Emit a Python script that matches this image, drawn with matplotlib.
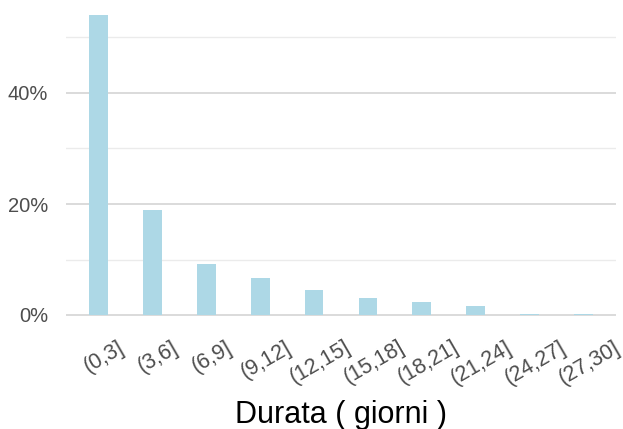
import matplotlib
matplotlib.use("Agg")
import matplotlib.pyplot as plt
import matplotlib.transforms as mtransforms
from matplotlib.ticker import FixedLocator, FuncFormatter

categories = ["(0,3]", "(3,6]", "(6,9]", "(9,12]", "(12,15]", "(15,18]",
              "(18,21]", "(21,24]", "(24,27]", "(27,30]"]
percent = [54.0, 18.9, 9.2, 6.7, 4.5, 3.05, 2.3, 1.6, 0.15, 0.1]
major_ticks = [0, 20, 40]
minor_ticks = [10, 30, 50]
xlabel = "Durata ( giorni )"

plt.rcParams['font.family'] = ['Liberation Sans', 'DejaVu Sans']

W, H = 623, 429
fig = plt.figure(figsize=(W / 100, H / 100), dpi=100)
left_px, right_px, top_px, bottom_px = 66, 616, 2, 330
ax = fig.add_axes([left_px / W, 1 - bottom_px / H,
                   (right_px - left_px) / W, (bottom_px - top_px) / H])

x = list(range(len(categories)))
ax.bar(x, percent, width=0.35, color="#ADD8E6", zorder=3)

ax.set_xlim(-0.6, len(categories) - 1 + 0.6)
px_per_pct = 111 / 20
ax.set_ylim(-(bottom_px - 315) / px_per_pct, (315 - top_px) / px_per_pct)

ax.yaxis.set_major_locator(FixedLocator(major_ticks))
ax.yaxis.set_minor_locator(FixedLocator(minor_ticks))
ax.yaxis.set_major_formatter(FuncFormatter(lambda v, p: f"{v:.0f}%"))
ax.grid(axis='y', which='major', color='#d4d4d4', linewidth=1.2, zorder=0)
ax.grid(axis='y', which='minor', color='#ebebeb', linewidth=1.0, zorder=0)
ax.grid(axis='x', visible=False)

ax.set_xticks(x)
ax.set_xticklabels(categories, rotation=30, ha='center', va='top')
ax.tick_params(axis='x', length=0, pad=5, labelsize=15.5, labelcolor='#4D4D4D')
ax.tick_params(axis='y', which='both', length=0, pad=13, labelsize=14.5,
               labelcolor='#4D4D4D')
offset = mtransforms.ScaledTranslation(6 / 100, 0, fig.dpi_scale_trans)
for lbl in ax.get_xticklabels():
    lbl.set_transform(lbl.get_transform() + offset)

for s in ax.spines.values():
    s.set_visible(False)

ax.set_xlabel(xlabel, fontsize=22, color='black', labelpad=8)

fig.savefig("out.png", dpi=100, facecolor='white')
